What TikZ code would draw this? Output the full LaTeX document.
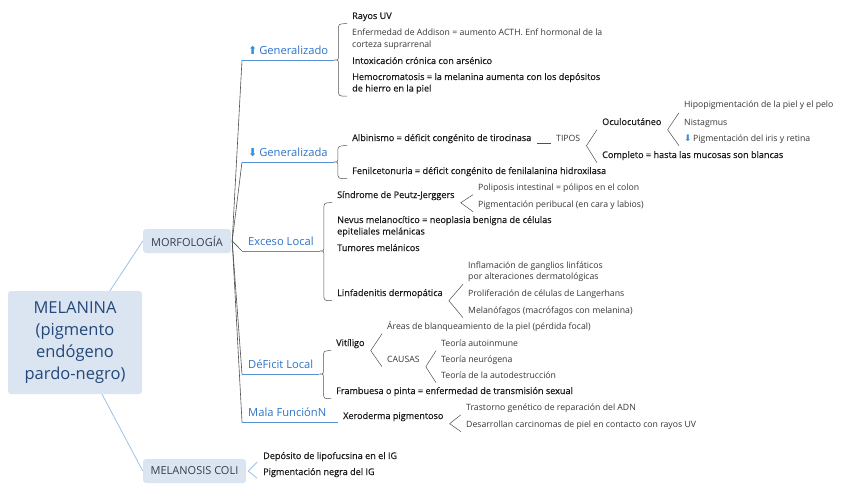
\documentclass[tikz,border=0pt]{standalone}
\usepackage{fontspec}
\setmainfont{Open Sans}
\newfontfamily\semib{Open Sans}[FakeBold=0.35]
\newfontfamily\symb{DejaVu Sans}
\usetikzlibrary{calc,positioning}
\definecolor{boxfill}{RGB}{219,229,241}
\definecolor{maintext}{RGB}{36,72,122}
\definecolor{boxtext}{RGB}{50,62,80}
\definecolor{branchblue}{RGB}{46,116,201}
\definecolor{arrowblue}{RGB}{52,142,226}
\definecolor{linkblue}{RGB}{157,195,230}
\definecolor{linegray}{RGB}{80,80,80}
\definecolor{itemtext}{RGB}{25,25,25}
\definecolor{subtext}{RGB}{55,55,55}
\newcommand{\arrup}{{\symb\color{arrowblue}\fontsize{11}{11}\selectfont ⬆}}
\newcommand{\arrdown}{{\symb\color{arrowblue}\fontsize{11}{11}\selectfont ⬇}}
\newcommand{\smalldown}{{\symb\color{arrowblue}\fontsize{9}{9}\selectfont ⬇}}
\newcommand{\curlyto}[3]{%
  \draw[brk] let \p1=(#1), \p2=([xshift=-5pt,yshift=-2.5pt]#2.south west),
    \p3=([xshift=-5pt,yshift=-2.5pt]#3.south west) in
    (\p2) .. controls (\x1+4pt,\y2) .. (\x1+4pt,\y2-7pt)
    -- (\x1+4pt,\y1+5pt) .. controls (\x1+4pt,\y1) .. (\p1)
    .. controls (\x1+4pt,\y1) .. (\x1+4pt,\y1-5pt)
    -- (\x1+4pt,\y3+7pt) .. controls (\x1+4pt,\y3) .. (\p3);}
\tikzset{
  topbox/.style={fill=boxfill, rounded corners=3pt, inner sep=0pt, align=center},
  branch/.style={anchor=south west, text=branchblue, font=\fontsize{11.2}{13}\selectfont, inner xsep=6pt, inner ysep=2.5pt, text height=8pt, text depth=2.5pt},
  item/.style={anchor=base west, inner sep=0pt, align=left, text depth=2pt, text=itemtext, font=\semib\fontsize{9.1}{11.5}\selectfont},
  sub/.style={item, text=subtext, font=\fontsize{8.7}{11.5}\selectfont},
  link/.style={linkblue, line width=0.8pt},
  trunk/.style={linegray, line width=0.6pt},
  uline/.style={branchblue!80, line width=0.8pt},
  brk/.style={linegray, line width=0.5pt}
}

\begin{document}
\begin{tikzpicture}[x=1pt, y=-1pt]
\fill[white] (0,0) rectangle (848,492);
\useasboundingbox (0,0) rectangle (848,492);

\node[topbox, minimum width=134pt, minimum height=103pt, text=maintext, font=\fontsize{16.5}{22}\selectfont] (mel) at (75,342.5) {MELANINA\\(pigmento\\endógeno\\pardo-negro)};
\node[topbox, minimum width=88pt, minimum height=24pt, text=boxtext, font=\fontsize{11}{12}\selectfont] (mor) at (187,241) {MORFOLOGÍA};
\node[topbox, minimum width=103pt, minimum height=24pt, text=boxtext, font=\fontsize{11}{12}\selectfont] (col) at (194.5,471) {MELANOSIS COLI};
\draw[link] ([xshift=35pt]mel.north) -- (mor.west);
\draw[link] ([xshift=27pt]mel.south) -- (col.west);

\node[branch] (gen) at (242,60) {\arrup\,Generalizado};
\node[branch] (gea) at (242,162) {\arrdown\,Generalizada};
\node[branch] (exc) at (242,251) {Exceso Local};
\node[branch] (def) at (242,374) {DéFicit Local};
\node[branch] (mal) at (242,422) {Mala FunciónN};
\foreach \b in {gen,gea,exc,def,mal} {
  \draw[trunk] ([xshift=1pt]mor.east) -- (\b.south west);
  \draw[uline] (\b.south west) -- (\b.south east);
}

\node[item] (ray) at (352,19) {Rayos UV};
\node[sub] (add) at (352,47.5) {Enfermedad de Addison = aumento ACTH. Enf hormonal de la\\corteza suprarrenal};
\node[item] (int) at (352,64) {Intoxicación crónica con arsénico};
\node[item] (hem) at (352,91.5) {Hemocromatosis = la melanina aumenta con los depósitos\\de hierro en la piel};
\curlyto{gen.south east}{ray}{hem}

\node[item] (alb) at (352,141) {Albinismo = déficit congénito de tirocinasa};
\node[item] (fen) at (352,174) {Fenilcetonuria = déficit congénito de fenilalanina hidroxilasa};
\curlyto{gea.south east}{alb}{fen}
\node[sub] (tip) at (556,141) {TIPOS};
\draw[brk] ([xshift=6pt]alb.south east) -- ([xshift=-5pt]tip.south west);
\node[item] (ocu) at (602,125) {Oculocutáneo};
\node[item] (com) at (602,158) {Completo = hasta las mucosas son blancas};
\draw[brk] ([xshift=-5pt,yshift=-2.5pt]ocu.south west) -- ([xshift=6pt,yshift=-2.5pt]tip.south east) -- ([xshift=-5pt,yshift=-2.5pt]com.south west);
\node[sub] (hip) at (684,108) {Hipopigmentación de la piel y el pelo};
\node[sub] (nis) at (684,125) {Nistagmus};
\node[sub] (iri) at (684,141) {\smalldown\,Pigmentación del iris y retina};
\draw[brk] ([xshift=-5pt,yshift=-2.5pt]hip.south west) -- ([xshift=6pt,yshift=-2.5pt]ocu.south east) -- ([xshift=-5pt,yshift=-2.5pt]iri.south west);

\node[item] (sin) at (337,198) {Síndrome de Peutz-Jerggers};
\node[sub] (pol) at (478,190) {Poliposis intestinal = pólipos en el colon};
\node[sub] (per) at (478,207) {Pigmentación peribucal (en cara y labios)};
\draw[brk] ([xshift=-5pt,yshift=-2.5pt]pol.south west) -- ([xshift=6pt,yshift=-2.5pt]sin.south east) -- ([xshift=-5pt,yshift=-2.5pt]per.south west);
\node[item] (nev) at (337,234.5) {Nevus melanocítico = neoplasia benigna de células\\epiteliales melánicas};
\node[item] (tum) at (337,251) {Tumores melánicos};
\node[item] (lin) at (337,296) {Linfadenitis dermopática};
\curlyto{exc.south east}{sin}{lin}
\node[sub] (inf) at (468,279.5) {Inflamación de ganglios linfáticos\\por alteraciones dermatológicas};
\node[sub] (pro) at (468,296) {Proliferación de células de Langerhans};
\node[sub] (mfg) at (468,313) {Melanófagos (macrófagos con melanina)};
\draw[brk] ([xshift=-5pt,yshift=-2.5pt]inf.south west) -- ([xshift=6pt,yshift=-2.5pt]lin.south east) -- ([xshift=-5pt,yshift=-2.5pt]mfg.south west);

\node[item] (vit) at (336,346) {Vitíligo};
\node[item] (fra) at (336,394) {Frambuesa o pinta = enfermedad de transmisión sexual};
\curlyto{def.south east}{vit}{fra}
\node[sub] (are) at (387,329) {Áreas de blanqueamiento de la piel (pérdida focal)};
\node[sub] (cau) at (387,362) {CAUSAS};
\draw[brk] ([xshift=-5pt,yshift=-2.5pt]are.south west) -- ([xshift=6pt,yshift=-2.5pt]vit.south east) -- ([xshift=-5pt,yshift=-2.5pt]cau.south west);
\node[sub] (tau) at (441,346) {Teoría autoinmune};
\node[sub] (tne) at (441,362) {Teoría neurógena};
\node[sub] (tad) at (441,378) {Teoría de la autodestrucción};
\draw[brk] ([xshift=-5pt,yshift=-2.5pt]tau.south west) -- ([xshift=6pt,yshift=-2.5pt]cau.south east) -- ([xshift=-5pt,yshift=-2.5pt]tad.south west);

\node[item] (xer) at (343,419) {Xeroderma pigmentoso};
\draw[uline] (mal.south east) -- ([xshift=-5pt]mal.south -| xer.west);
\node[sub] (tra) at (466,410) {Trastorno genético de reparación del ADN};
\node[sub] (des) at (466,427) {Desarrollan carcinomas de piel en contacto con rayos UV};
\draw[brk] ([xshift=-5pt,yshift=-2.5pt]tra.south west) -- ([xshift=6pt,yshift=-2.5pt]xer.south east) -- ([xshift=-5pt,yshift=-2.5pt]des.south west);

\node[item] (dep) at (263,459) {Depósito de lipofucsina en el IG};
\node[item] (pne) at (263,475) {Pigmentación negra del IG};
\draw[link] ([xshift=-6pt,yshift=-1pt]dep.south west) -- ([xshift=2pt]col.east) -- ([xshift=-6pt,yshift=-1pt]pne.south west);
\end{tikzpicture}
\end{document}
